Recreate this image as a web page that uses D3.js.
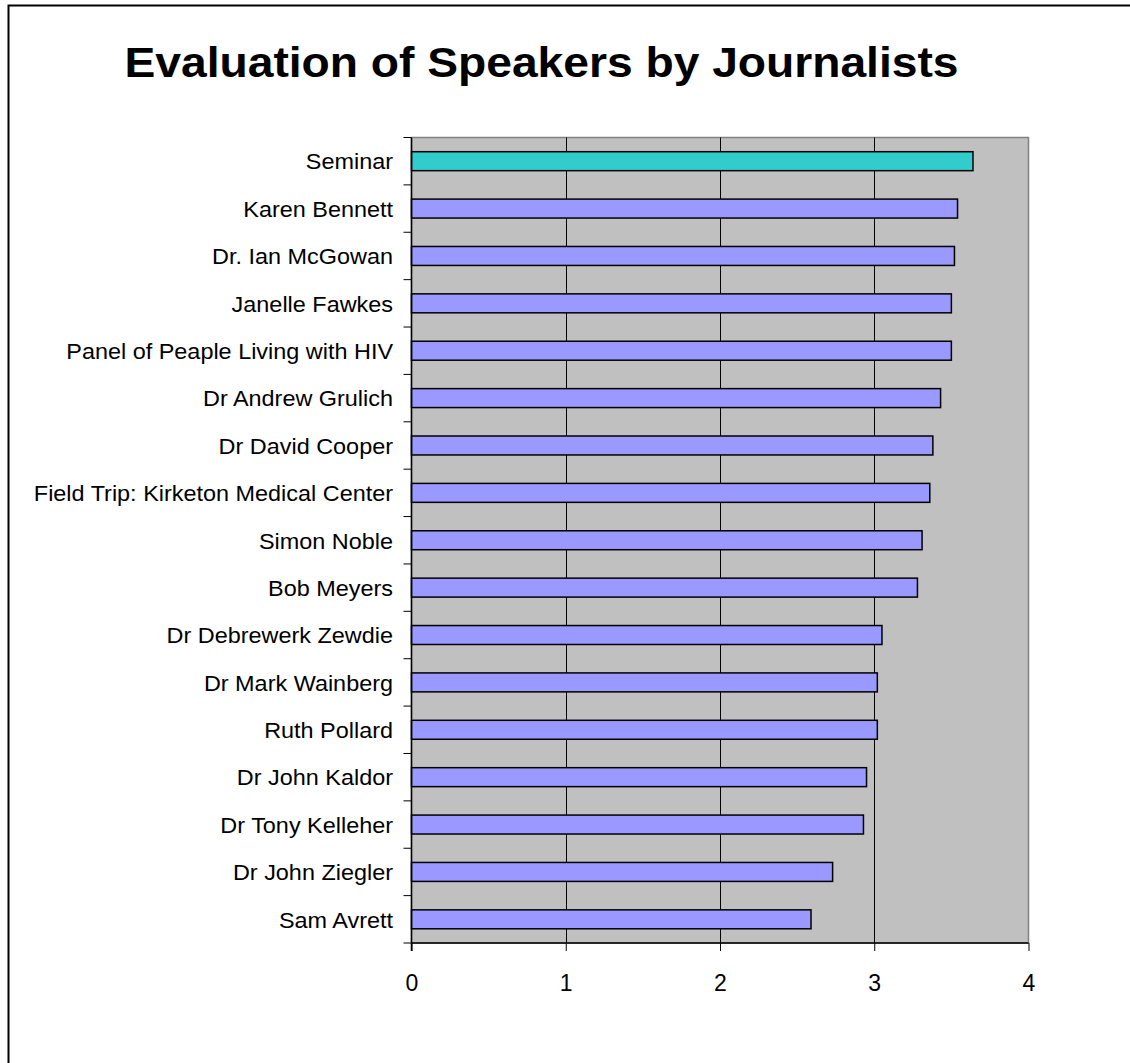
<!DOCTYPE html>
<html>
<head>
<meta charset="utf-8">
<script src="https://cdn.jsdelivr.net/npm/d3@7"></script>
<style>
  html, body { margin: 0; padding: 0; background: #fff; }
  svg { display: block; }
  text { font-family: "Liberation Sans", Arial, sans-serif; fill: #000; }
</style>
</head>
<body>
<svg id="chart" width="1130" height="1063"></svg>
<script>
const title = "Evaluation of Speakers by Journalists";
const categories = [
  "Seminar",
  "Karen Bennett",
  "Dr. Ian McGowan",
  "Janelle Fawkes",
  "Panel of Peaple Living with HIV",
  "Dr Andrew Grulich",
  "Dr David Cooper",
  "Field Trip: Kirketon Medical Center",
  "Simon Noble",
  "Bob Meyers",
  "Dr Debrewerk Zewdie",
  "Dr Mark Wainberg",
  "Ruth Pollard",
  "Dr John Kaldor",
  "Dr Tony Kelleher",
  "Dr John Ziegler",
  "Sam Avrett"
];
const scores = [3.64, 3.54, 3.52, 3.50, 3.50, 3.43, 3.38, 3.36, 3.31, 3.28, 3.05, 3.02, 3.02, 2.95, 2.93, 2.73, 2.59];
const highlighted = ["Seminar"];
const xTicks = [0, 1, 2, 3, 4];

const svg = d3.select("#chart");
const plot = { left: 411.5, right: 1028.5, top: 137.5, bottom: 943 };

// outer chart border (extends beyond the visible area right/bottom)
svg.append("rect")
  .attr("x", 8.5).attr("y", 5.5).attr("width", 1300).attr("height", 1300)
  .attr("fill", "#fff").attr("stroke", "#000").attr("stroke-width", 2);

// title
svg.append("text")
  .attr("transform", "translate(541.5,77) scale(1.1,1)")
  .attr("text-anchor", "middle")
  .attr("font-size", 42).attr("font-weight", "bold")
  .text(title);

const x = d3.scaleLinear().domain([0, 4]).range([plot.left, plot.right]);
const y = d3.scaleBand().domain(categories).range([plot.top, plot.bottom])
  .paddingInner(0.6).paddingOuter(0.3);

// plot background
svg.append("rect")
  .attr("x", plot.left).attr("y", plot.top)
  .attr("width", plot.right - plot.left).attr("height", plot.bottom - plot.top)
  .attr("fill", "#C0C0C0").attr("stroke", "#808080").attr("stroke-width", 1.5);

// vertical gridlines
svg.append("g").selectAll("line")
  .data(xTicks.filter(t => t > 0 && t < 4))
  .join("line")
  .attr("x1", d => Math.round(x(d)) + 0.5).attr("x2", d => Math.round(x(d)) + 0.5)
  .attr("y1", plot.top).attr("y2", plot.bottom)
  .attr("stroke", "#000").attr("stroke-width", 1);

// bars
svg.append("g").selectAll("rect")
  .data(categories.map((c, i) => ({ c, v: scores[i] })))
  .join("rect")
  .attr("x", x(0))
  .attr("y", d => y(d.c))
  .attr("width", d => x(d.v) - x(0))
  .attr("height", y.bandwidth())
  .attr("fill", d => highlighted.includes(d.c) ? "#33CCCC" : "#9999FF")
  .attr("stroke", "#000").attr("stroke-width", 1.5);

// left axis line and ticks between categories
const step = y.step();
const boundaries = d3.range(categories.length + 1).map(i => plot.top + i * step);
svg.append("line")
  .attr("x1", plot.left).attr("x2", plot.left)
  .attr("y1", plot.top).attr("y2", plot.bottom + 8)
  .attr("stroke", "#000").attr("stroke-width", 1.5);
svg.append("g").selectAll("line")
  .data(boundaries)
  .join("line")
  .attr("x1", plot.left - 8).attr("x2", plot.left)
  .attr("y1", d => d).attr("y2", d => d)
  .attr("stroke", "#000").attr("stroke-width", 1);

// category labels
svg.append("g").selectAll("text")
  .data(categories)
  .join("text")
  .attr("transform", d => `translate(393,${y(d) + y.bandwidth() / 2 + 8.3}) scale(1.09,1)`)
  .attr("text-anchor", "end")
  .attr("font-size", 21.5)
  .text(d => d);

// bottom axis
const xAxis = d3.axisBottom(x).tickValues(xTicks).tickSize(8).tickFormat(d3.format("d"));
const gx = svg.append("g").attr("transform", `translate(0,${plot.bottom})`).call(xAxis);
gx.select(".domain").attr("stroke", "#000").attr("stroke-width", 1.5).attr("d", `M${plot.left},0H${plot.right}`);
gx.selectAll(".tick line").attr("stroke", "#000").attr("stroke-width", 1);
gx.selectAll(".tick text")
  .attr("y", 47.7).attr("dy", 0)
  .attr("font-size", 23)
  .attr("font-family", "\"Liberation Sans\", Arial, sans-serif")
  .attr("fill", "#000");
</script>
</body>
</html>
